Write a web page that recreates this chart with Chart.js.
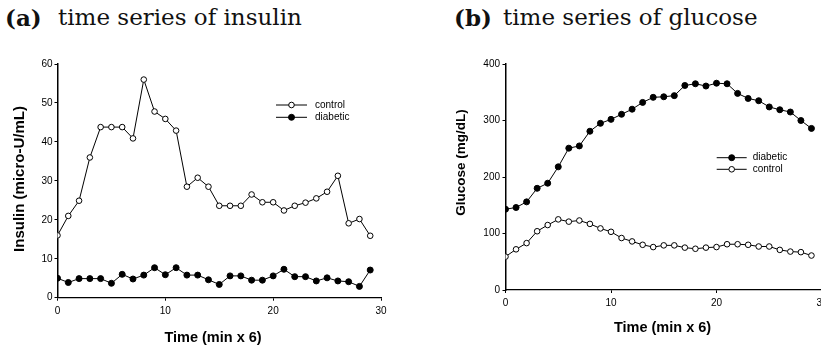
<!DOCTYPE html>
<html>
<head>
<meta charset="utf-8">
<script src="https://cdn.jsdelivr.net/npm/chart.js@4.4.1/dist/chart.umd.min.js"></script>
<style>
  html, body { margin:0; padding:0; width:821px; height:351px; overflow:hidden; background:#fff; }
  .wrap { position:absolute; }
  .head { position:absolute; top:6px; font-family:'DejaVu Serif', serif; font-size:23px; line-height:23px; color:#111; white-space:nowrap; }
  .head b { font-weight:bold; }
</style>
</head>
<body>
<div class="head" style="left:5px"><b>(a)</b></div>
<div class="head" style="left:58px">time series of insulin</div>
<div class="head" style="left:454px"><b>(b)</b></div>
<div class="head" style="left:503px">time series of glucose</div>
<canvas id="c1" width="420" height="351" style="position:absolute;left:0;top:0"></canvas>
<canvas id="c2" width="420" height="351" style="position:absolute;left:440px;top:0"></canvas>
<script>
// ---- data ----
const timeIdx = [0,1,2,3,4,5,6,7,8,9,10,11,12,13,14,15,16,17,18,19,20,21,22,23,24,25,26,27,28,29];
const insulinControl  = [16.0,21.0,24.9,36.0,43.8,43.8,43.8,40.9,56.0,47.8,45.9,42.9,28.5,30.8,28.5,23.6,23.6,23.6,26.5,24.5,24.5,22.4,23.6,24.4,25.5,27.2,31.3,19.1,20.2,15.9];
const insulinDiabetic = [5.0,3.9,4.9,4.9,4.9,3.7,6.0,4.8,5.8,7.7,5.9,7.7,5.8,5.8,4.6,3.4,5.6,5.6,4.5,4.5,5.6,7.3,5.4,5.4,4.3,5.1,4.3,4.1,2.9,7.1];
const glucoseDiabetic = [143,146,156,180,189,218,251,255,281,295,302,311,320,332,341,342,344,362,365,361,366,365,348,339,335,324,319,315,300,286];
const glucoseControl  = [59,72,83,104,115,125,121,123,117,109,103,92,86,80,76,79,79,75,73,75,76,81,81,80,77,77,71,68,67,61];
const xTickValues = [0,10,20,30];
const insulinTicks = [0,10,20,30,40,50,60];
const glucoseTicks = [0,100,200,300,400];

const FONT = "'Liberation Sans', Arial, Helvetica, sans-serif";

const freeText = {
  id: 'freeText',
  afterDraw(chart, args, opts) {
    const ctx = chart.ctx;
    (opts.items || []).forEach(it => {
      ctx.save();
      ctx.font = it.font;
      ctx.fillStyle = '#000';
      ctx.textAlign = 'center';
      ctx.textBaseline = 'middle';
      ctx.translate(it.x, it.y);
      if (it.rotate) ctx.rotate(it.rotate);
      ctx.fillText(it.text, 0, 0);
      ctx.restore();
    });
  }
};

const lineLegend = {
  id: 'lineLegend',
  afterDraw(chart, args, opts) {
    if (!opts.order) return;
    const ctx = chart.ctx;
    opts.order.forEach((di, k) => {
      const ds = chart.data.datasets[di];
      const y = opts.y0 + k * opts.dy;
      ctx.save();
      ctx.strokeStyle = '#000';
      ctx.lineWidth = 1;
      ctx.beginPath();
      ctx.moveTo(opts.x1, y);
      ctx.lineTo(opts.x2, y);
      ctx.stroke();
      const cx = (opts.x1 + opts.x2) / 2;
      ctx.beginPath();
      ctx.arc(cx, y, ds.pointRadius, 0, Math.PI * 2);
      ctx.fillStyle = ds.pointBackgroundColor;
      ctx.fill();
      ctx.stroke();
      ctx.fillStyle = '#000';
      ctx.font = '10px ' + FONT;
      ctx.textAlign = 'left';
      ctx.textBaseline = 'middle';
      ctx.fillText(ds.label, opts.textX, y);
      ctx.restore();
    });
  }
};

function pts(vals) { return timeIdx.map((t, i) => ({ x: t, y: vals[i] })); }

function ds(label, vals, filled) {
  return {
    label, data: pts(vals),
    borderColor: '#000', borderWidth: 1,
    pointRadius: filled ? 3 : 2.8,
    pointBorderWidth: 1,
    pointBorderColor: '#000',
    pointBackgroundColor: filled ? '#000' : '#fff',
    tension: 0, fill: false
  };
}

function xScale(height, pad) {
  return {
    type: 'linear', min: 0, max: 30,
    afterBuildTicks: s => { s.ticks = xTickValues.map(v => ({ value: v })); },
    ticks: { font: { family: FONT, size: 10 }, color: '#000', padding: pad, maxRotation: 0 },
    grid: { drawOnChartArea: false, drawTicks: true, tickLength: 3, color: '#000', lineWidth: 1 },
    border: { color: '#000', width: 1.3 },
    afterFit: s => { s.height = height; }
  };
}
function yScale(max, tickVals, width, pad) {
  return {
    type: 'linear', min: 0, max: max,
    afterBuildTicks: s => { s.ticks = tickVals.map(v => ({ value: v })); },
    ticks: { font: { family: FONT, size: 10 }, color: '#000', padding: pad },
    grid: { drawOnChartArea: false, drawTicks: true, tickLength: 3, color: '#000', lineWidth: 1 },
    border: { color: '#000', width: 1.5 },
    afterFit: s => { s.width = width; }
  };
}

Chart.defaults.font.family = FONT;

new Chart(document.getElementById('c1'), {
  type: 'line',
  data: { datasets: [ ds('control', insulinControl, false), ds('diabetic', insulinDiabetic, true) ] },
  options: {
    responsive: false, animation: false,
    layout: { padding: { left: 0, top: 64, right: 39, bottom: 0 } },
    scales: { x: xScale(53.3, 4.5), y: yScale(60, insulinTicks, 57.5, 2) },
    plugins: {
      legend: { display: false }, tooltip: { enabled: false },
      freeText: { items: [
        { text: 'Insulin (micro-U/mL)', font: 'bold 15px ' + FONT, x: 19.5, y: 179, rotate: -Math.PI / 2 },
        { text: 'Time (min x 6)', font: 'bold 14.5px ' + FONT, x: 213, y: 337.5 }
      ] },
      lineLegend: { order: [0, 1], x1: 276, x2: 307, textX: 315, y0: 105, dy: 12.3 }
    }
  },
  plugins: [freeText, lineLegend]
});

new Chart(document.getElementById('c2'), {
  type: 'line',
  data: { datasets: [ ds('diabetic', glucoseDiabetic, true), ds('control', glucoseControl, false) ] },
  options: {
    responsive: false, animation: false,
    layout: { padding: { left: 0, top: 64, right: 38, bottom: 0 } },
    scales: { x: xScale(61, 4.5), y: yScale(400, glucoseTicks, 65.5, 2.5) },
    plugins: {
      legend: { display: false }, tooltip: { enabled: false },
      freeText: { items: [
        { text: 'Glucose (mg/dL)', font: 'bold 13.5px ' + FONT, x: 20.8, y: 162.5, rotate: -Math.PI / 2 },
        { text: 'Time (min x 6)', font: 'bold 14.5px ' + FONT, x: 222.5, y: 327.5 }
      ] },
      lineLegend: { order: [0, 1], x1: 276.7, x2: 306.7, textX: 312.7, y0: 157.7, dy: 11.6 }
    }
  },
  plugins: [freeText, lineLegend]
});
</script>
</body>
</html>
